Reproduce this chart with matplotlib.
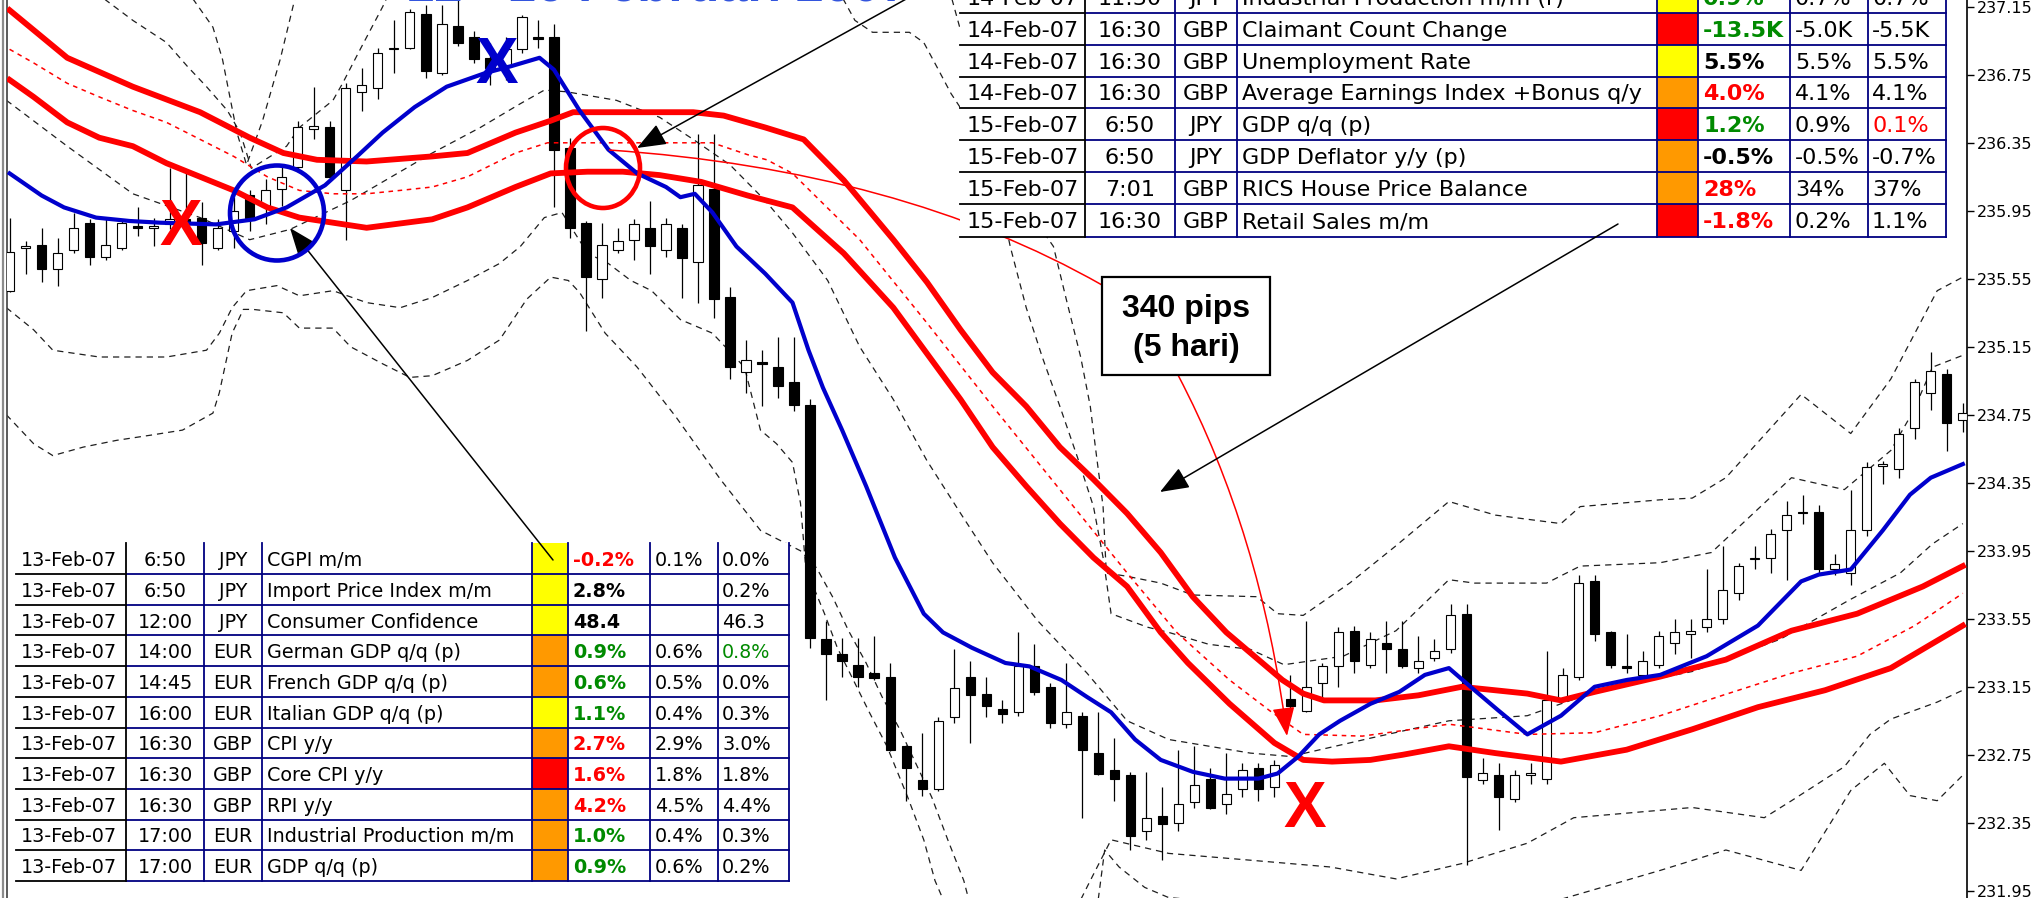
import numpy as np
import matplotlib
matplotlib.use("Agg")
import matplotlib.pyplot as plt
from matplotlib.patches import Rectangle, Ellipse, PathPatch, FancyArrowPatch
from matplotlib.path import Path

# ---- price bars (bar index 0..122) ----
opens = [
    235.48, 235.73, 235.75, 235.61, 235.72, 235.88, 235.68, 235.73, 235.86, 235.85,
    235.87, 235.90, 235.91, 235.73, 235.83, 236.04, 235.98, 236.08, 236.21, 236.43,
    236.44, 236.07, 236.65, 236.67, 236.90, 236.91, 237.11, 236.76, 237.04, 236.97,
    236.85, 236.81, 236.90, 236.97, 236.97, 236.32, 235.88, 235.55, 235.72, 235.78,
    235.85, 235.72, 235.85, 235.65, 236.08, 235.44, 235.00, 235.06, 235.03, 234.94,
    234.81, 233.43, 233.34, 233.28, 233.23, 233.21, 232.80, 232.60, 232.55, 232.97,
    233.21, 233.11, 233.02, 233.00, 233.27, 233.15, 232.93, 232.98, 232.76, 232.66,
    232.63, 232.30, 232.39, 232.35, 232.47, 232.61, 232.46, 232.55, 232.67, 232.56,
    233.08, 233.01, 233.17, 233.27, 233.48, 233.28, 233.41, 233.37, 233.26, 233.32,
    233.37, 233.58, 232.60, 232.63, 232.49, 232.63, 232.61, 233.08, 233.21, 233.77,
    233.47, 233.27, 233.22, 233.28, 233.41, 233.46, 233.50, 233.55, 233.70, 233.90,
    233.91, 234.07, 234.18, 234.18, 233.84, 233.82, 234.07, 234.45, 234.43, 234.67,
    234.88, 234.99, 234.72]
highs = [
    235.91, 235.77, 235.85, 235.79, 235.94, 235.90, 235.91, 235.90, 235.97, 235.91,
    236.20, 236.19, 236.00, 235.90, 236.03, 236.07, 236.14, 236.22, 236.48, 236.68,
    236.48, 236.70, 236.79, 236.91, 237.07, 237.14, 237.16, 237.16, 237.19, 237.01,
    236.94, 236.97, 237.10, 237.07, 237.05, 236.38, 235.89, 235.88, 235.85, 235.90,
    236.01, 235.91, 235.87, 236.40, 236.40, 235.50, 235.19, 235.13, 235.21, 235.21,
    234.84, 233.54, 233.44, 233.44, 233.45, 233.29, 232.81, 232.88, 232.97, 233.37,
    233.30, 233.21, 233.07, 233.47, 233.40, 233.17, 233.29, 233.00, 233.00, 232.85,
    232.65, 232.65, 232.56, 232.78, 232.80, 232.67, 232.76, 232.70, 232.70, 232.72,
    233.22, 233.54, 233.29, 233.50, 233.51, 233.47, 233.54, 233.54, 233.45, 233.43,
    233.64, 233.64, 232.73, 232.70, 232.66, 232.70, 233.36, 233.26, 233.81, 233.81,
    233.48, 233.46, 233.36, 233.48, 233.55, 233.55, 233.84, 233.98, 233.88, 233.98,
    234.08, 234.24, 234.28, 234.22, 233.93, 234.31, 234.47, 234.48, 234.67, 234.96,
    235.12, 235.02, 234.82]
lows = [
    235.47, 235.58, 235.53, 235.51, 235.70, 235.63, 235.66, 235.72, 235.80, 235.74,
    235.84, 235.83, 235.63, 235.72, 235.73, 235.83, 235.87, 235.98, 236.18, 236.37,
    236.13, 235.78, 236.54, 236.61, 236.76, 236.90, 236.73, 236.75, 236.92, 236.82,
    236.69, 236.72, 236.88, 236.91, 235.97, 235.79, 235.24, 235.44, 235.70, 235.66,
    235.58, 235.68, 235.44, 235.41, 235.32, 234.96, 234.88, 234.80, 234.85, 234.77,
    233.38, 233.07, 233.21, 233.15, 233.19, 232.77, 232.48, 232.51, 232.54, 232.94,
    232.82, 232.97, 232.94, 232.98, 233.10, 232.91, 232.91, 232.38, 232.63, 232.48,
    232.19, 232.25, 232.13, 232.30, 232.44, 232.43, 232.40, 232.50, 232.48, 232.50,
    232.98, 233.00, 233.09, 233.15, 233.23, 233.26, 233.23, 233.26, 233.23, 233.30,
    233.35, 232.10, 232.58, 232.31, 232.47, 232.58, 232.58, 233.06, 233.19, 233.42,
    233.26, 233.23, 233.19, 233.26, 233.34, 233.32, 233.47, 233.52, 233.66, 233.84,
    233.82, 233.78, 234.11, 233.82, 233.81, 233.75, 234.04, 234.34, 234.38, 234.61,
    234.78, 234.54, 234.65]
closes = [
    235.71, 235.74, 235.61, 235.70, 235.85, 235.68, 235.75, 235.88, 235.85, 235.86,
    235.90, 235.88, 235.76, 235.85, 235.95, 235.91, 236.07, 236.15, 236.44, 236.45,
    236.15, 236.67, 236.69, 236.88, 236.91, 237.12, 236.77, 237.05, 236.94, 236.84,
    236.79, 236.90, 237.09, 236.96, 236.31, 235.85, 235.56, 235.75, 235.77, 235.87,
    235.74, 235.87, 235.67, 236.10, 235.43, 235.03, 235.07, 235.05, 234.92, 234.81,
    233.44, 233.34, 233.30, 233.21, 233.20, 232.78, 232.67, 232.55, 232.95, 233.14,
    233.10, 233.04, 232.99, 233.27, 233.12, 232.94, 233.00, 232.78, 232.64, 232.61,
    232.27, 232.38, 232.34, 232.46, 232.57, 232.44, 232.52, 232.66, 232.55, 232.69,
    233.04, 233.15, 233.27, 233.47, 233.30, 233.43, 233.37, 233.27, 233.30, 233.36,
    233.57, 232.62, 232.64, 232.50, 232.63, 232.64, 233.07, 233.22, 233.76, 233.46,
    233.28, 233.26, 233.30, 233.45, 233.47, 233.48, 233.55, 233.72, 233.86, 233.91,
    234.05, 234.16, 234.17, 233.84, 233.87, 234.07, 234.44, 234.46, 234.64, 234.94,
    235.01, 234.70, 234.76]

# ---- indicator lines: (bar index, price) knots ----
ma_idx = [0, 2, 3.4, 5.4, 7.5, 9.4, 12.9, 15.3, 17.3, 19.7, 21.7, 23.3, 25.3, 27.3, 29.7,
          31.3, 33.1, 34, 35.6, 37.4, 39.2, 41, 41.9, 42.8, 43.9, 45.4, 47.2, 48.9, 49.9,
          50.8, 52, 53.5, 55.3, 57.1, 58.3, 60.1, 62.2, 63.7, 65.7, 67.3, 68.8, 70.3, 71.9,
          73.9, 75.9, 78, 79.2, 80.5, 81.8, 83.1, 85, 86.8, 88.4, 89.9, 91.5, 93, 94.8,
          96.9, 99, 101, 103.1, 106, 109.2, 111.9, 113, 115, 117, 118.7, 120, 122]
ma_val = [236.17, 236.04, 235.97, 235.91, 235.89, 235.88, 235.87, 235.90, 235.97, 236.10,
          236.27, 236.41, 236.56, 236.68, 236.76, 236.80, 236.85, 236.78, 236.54, 236.31,
          236.17, 236.09, 236.03, 236.05, 235.94, 235.74, 235.58, 235.41, 235.13, 234.91,
          234.66, 234.33, 233.91, 233.58, 233.47, 233.38, 233.29, 233.27, 233.19, 233.09,
          233.00, 232.84, 232.72, 232.65, 232.61, 232.61, 232.64, 232.74, 232.87, 232.95,
          233.05, 233.12, 233.22, 233.26, 233.13, 233.01, 232.87, 232.98, 233.15, 233.19,
          233.22, 233.33, 233.51, 233.77, 233.81, 233.84, 234.07, 234.28, 234.38, 234.46]

env_up_idx = [0, 3.6, 7.7, 11.9, 15, 17.1, 19.2, 22.3, 26.4, 28.6, 31.6, 33.8, 35.2, 38.3,
              42.7, 44.6, 47.2, 49.6, 52.1, 55.2, 57.3, 59.4, 61.4, 63.5, 65.6, 67.7, 69.8,
              71.9, 73.9, 76, 77.5, 79.5, 80.8, 82.1, 85.3, 88, 90.7, 94.8, 96.9, 99, 103.1,
              107.2, 111.3, 115.4, 119.5, 122]
env_up_val = [237.13, 236.85, 236.68, 236.53, 236.38, 236.29, 236.25, 236.24, 236.27, 236.29,
              236.41, 236.48, 236.53, 236.53, 236.53, 236.51, 236.44, 236.37, 236.13, 235.78,
              235.53, 235.25, 235.00, 234.80, 234.56, 234.37, 234.17, 233.94, 233.68, 233.47,
              233.35, 233.19, 233.11, 233.07, 233.07, 233.10, 233.15, 233.11, 233.07, 233.12,
              233.21, 233.31, 233.48, 233.58, 233.74, 233.86]

env_lo_idx = [0, 1.5, 3.6, 5.6, 7.7, 9.8, 11.9, 14, 16.1, 18.1, 20.2, 22.3, 26.4, 28.6, 31.6,
              33.8, 36.1, 38.3, 40.6, 43.2, 46.1, 48.9, 52.1, 55.2, 57.3, 59.4, 61.4, 63.5,
              65.6, 67.7, 69.8, 71.9, 73.6, 76.2, 79, 80.8, 82.6, 85, 87, 89.9, 92.8, 96.9,
              101, 105.1, 109.2, 113.4, 117.5, 122]
env_lo_val = [236.72, 236.62, 236.47, 236.38, 236.33, 236.23, 236.15, 236.07, 235.97, 235.91,
              235.88, 235.85, 235.90, 235.97, 236.09, 236.17, 236.18, 236.18, 236.16, 236.12,
              236.04, 235.97, 235.70, 235.38, 235.11, 234.84, 234.56, 234.33, 234.11, 233.91,
              233.74, 233.47, 233.29, 233.05, 232.82, 232.72, 232.71, 232.72, 232.75, 232.80,
              232.76, 232.71, 232.78, 232.90, 233.03, 233.13, 233.26, 233.51]

env_mid_idx = [0, 1.5, 3.6, 5.6, 7.7, 9.8, 11.9, 14, 16.1, 18.1, 20.2, 22.3, 24.4, 26.4, 28.6,
               31.6, 33.6, 36.1, 43.9, 46.1, 47.3, 48.9, 51.7, 53.1, 57.3, 61.4, 65.6, 69.8,
               72.9, 76.2, 78.7, 80.8, 84.5, 89.9, 94.8, 99, 103.1, 107, 111.3, 115.4, 119, 122]
env_mid_val = [236.90, 236.82, 236.70, 236.62, 236.54, 236.47, 236.37, 236.27, 236.15, 236.07,
               236.05, 236.05, 236.07, 236.09, 236.15, 236.29, 236.35, 236.35, 236.35, 236.28,
               236.25, 236.17, 235.91, 235.78, 235.29, 234.80, 234.31, 233.82, 233.47, 233.19,
               233.01, 232.87, 232.86, 232.93, 232.87, 232.88, 232.98, 233.10, 233.23, 233.33,
               233.51, 233.70]

# bollinger-style bands (black dashed)
bb_uo_idx = [-0.2, 6.9, 11.5, 12.7, 13.3, 13.8, 14.2, 14.8, 15.8, 16.9, 17.8, 18.8, 30.6, 43.1,
             49.4, 52.1, 52.8, 53.9, 56.2, 57.1, 57.9, 58.8, 59.5, 61.9, 65.2, 66.0, 66.9, 67.5,
             67.9, 68.3, 68.5, 69.8, 71.9, 73.9, 77.9, 79.2, 80.8, 83.7, 86.6, 89.9, 92.8, 96.9,
             98.1, 103.1, 105.1, 107.2, 111.9, 115.0, 117.5, 120.4, 122.0]
bb_uo_val = [238.66, 237.54, 237.19, 237.03, 236.84, 236.60, 236.41, 236.22, 236.48, 236.84,
             237.19, 237.54, 237.90, 237.78, 237.37, 237.19, 237.07, 237.00, 237.00, 236.94,
             236.80, 236.64, 236.54, 236.19, 235.74, 235.43, 235.09, 234.80, 234.50, 234.21,
             233.82, 233.80, 233.76, 233.69, 233.68, 233.58, 233.57, 233.76, 233.98, 234.24,
             234.16, 234.11, 234.21, 234.25, 234.26, 234.38, 234.87, 234.64, 234.96, 235.48,
             235.56]
bb_ui_idx = [-0.2, 6.0, 7.7, 9.8, 11.1, 12.3, 13.6, 14.4, 15.1, 17.3, 18.1, 20.2, 20.8, 21.9,
             23.3, 24.4, 43.1, 58.7, 60.6, 62.5, 63.5, 64.5, 65.6, 66.7, 67.7, 68.3, 68.8, 71.1,
             72.4, 74.9, 77.5, 79.6, 83.3, 86.6, 89.9, 91.5, 96.0, 98.1, 103.1, 106.3, 111.3,
             114.6, 117.5, 118.9, 120.1, 122.0]
bb_ui_val = [237.84, 237.19, 237.07, 236.94, 236.80, 236.68, 236.54, 236.41, 236.20, 236.33,
             236.44, 236.60, 236.70, 236.90, 237.15, 237.37, 237.66, 237.25, 236.60, 235.74,
             235.38, 235.09, 234.80, 234.50, 234.21, 233.91, 233.58, 233.50, 233.47, 233.40,
             233.37, 233.28, 233.33, 233.48, 233.78, 233.76, 233.76, 233.86, 233.88, 233.94,
             234.38, 234.31, 234.54, 234.77, 235.03, 235.10]
bb_mid_idx = [-0.2, 3.6, 7.7, 11.9, 15.0, 17.5, 21.3, 26.4, 29.4, 31.9, 33.4, 34.8, 37.9, 40.6,
              42.7, 45.0, 47.2, 48.9, 51.1, 53.1, 55.2, 57.3, 59.4, 61.4, 64.2, 67.3, 69.8, 72.4,
              77.5, 80.0, 85.1, 89.9, 94.8, 99.3, 105.1, 110.6, 114.9, 118.1, 120.1, 122.0]
bb_mid_val = [236.60, 236.33, 236.05, 235.91, 235.78, 235.84, 236.01, 236.29, 236.44, 236.58,
              236.66, 236.65, 236.60, 236.50, 236.37, 236.22, 236.01, 235.82, 235.54, 235.15,
              234.84, 234.48, 234.17, 233.88, 233.54, 233.23, 232.95, 232.84, 232.76, 232.74,
              232.85, 232.95, 232.98, 233.13, 233.24, 233.43, 233.66, 233.82, 233.99, 234.11]
bb_li_idx = [-0.2, 1.5, 2.7, 5.6, 9.8, 12.3, 13.1, 13.9, 14.8, 16.7, 18.1, 20.2, 22.3, 24.4,
             26.4, 28.6, 30.6, 31.9, 33.4, 34.5, 36.1, 37.4, 38.8, 40.1, 41.9, 43.9, 45.9, 46.9,
             47.9, 48.9, 49.4, 49.7, 50.2, 50.9, 51.7, 52.7, 53.7, 54.8, 56.1, 57.1, 57.8, 59.4,
             65.0, 67.5, 68.8, 72.4, 77.5, 82.5, 86.6, 90.7, 94.8, 97.7, 105.1, 109.6, 111.3,
             114.6, 116.2, 117.5, 120.4, 122.0]
bb_li_val = [235.38, 235.25, 235.13, 235.09, 235.09, 235.13, 235.23, 235.38, 235.48, 235.51,
             235.45, 235.48, 235.41, 235.38, 235.44, 235.54, 235.64, 235.74, 235.91, 235.94,
             235.70, 235.64, 235.54, 235.48, 235.31, 235.23, 235.03, 234.66, 234.58, 234.47,
             234.23, 233.88, 233.74, 233.58, 233.38, 233.19, 233.00, 232.80, 232.50, 232.25,
             232.01, 231.66, 231.54, 232.01, 232.25, 232.17, 232.13, 232.09, 232.02, 232.11,
             232.23, 232.38, 232.44, 232.38, 232.48, 232.68, 232.87, 232.96, 233.06, 233.13]
bb_lo_idx = [-0.2, 1.5, 2.7, 4.6, 6.7, 8.8, 10.8, 12.7, 13.1, 13.9, 14.6, 15.2, 17.1, 18.1,
             20.2, 21.3, 23.3, 25.0, 26.4, 28.6, 30.6, 32.3, 33.8, 34.9, 35.6, 37.2, 39.2, 41.6,
             44.4, 46.9, 49.4, 50.4, 51.4, 52.4, 53.5, 54.5, 55.6, 56.6, 57.6, 58.6, 59.6, 60.9,
             67.5, 68.4, 69.3, 70.9, 72.4, 77.5, 80.8, 89.9, 96.9, 103.1, 107.2, 111.9, 115.0,
             117.1, 118.7, 120.4, 122.0]
bb_lo_val = [234.75, 234.58, 234.51, 234.56, 234.60, 234.63, 234.66, 234.76, 234.88, 235.23,
             235.37, 235.37, 235.35, 235.26, 235.26, 235.15, 235.05, 234.97, 234.98, 235.07,
             235.19, 235.43, 235.56, 235.54, 235.47, 235.23, 235.03, 234.74, 234.37, 234.07,
             233.95, 233.85, 233.68, 233.48, 233.29, 233.09, 232.90, 232.70, 232.50, 232.25,
             232.01, 231.54, 231.54, 232.19, 232.09, 231.97, 231.91, 231.87, 231.90, 231.66,
             231.90, 232.07, 232.19, 232.07, 232.54, 232.70, 232.51, 232.48, 232.63]

price_ticks = [231.95, 232.35, 232.75, 233.15, 233.55, 233.95, 234.35, 234.75,
               235.15, 235.55, 235.95, 236.35, 236.75, 237.15]

# ---- economic calendar tables ----
low_date = ['13-Feb-07'] * 11
low_time = ['6:50', '6:50', '12:00', '14:00', '14:45', '16:00', '16:30', '16:30', '16:30', '17:00', '17:00']
low_ccy = ['JPY', 'JPY', 'JPY', 'EUR', 'EUR', 'EUR', 'GBP', 'GBP', 'GBP', 'EUR', 'EUR']
low_event = ['CGPI m/m', 'Import Price Index m/m', 'Consumer Confidence', 'German GDP q/q (p)',
             'French GDP q/q (p)', 'Italian GDP q/q (p)', 'CPI y/y', 'Core CPI y/y', 'RPI y/y',
             'Industrial Production m/m', 'GDP q/q (p)']
low_impact = ['y', 'y', 'y', 'o', 'o', 'y', 'o', 'r', 'o', 'o', 'o']
low_actual = ['-0.2%', '2.8%', '48.4', '0.9%', '0.6%', '1.1%', '2.7%', '1.6%', '4.2%', '1.0%', '0.9%']
low_actual_col = ['r', 'k', 'k', 'g', 'g', 'g', 'r', 'r', 'r', 'g', 'g']
low_fcst = ['0.1%', '', '', '0.6%', '0.5%', '0.4%', '2.9%', '1.8%', '4.5%', '0.4%', '0.6%']
low_prev = ['0.0%', '0.2%', '46.3', '0.8%', '0.0%', '0.3%', '3.0%', '1.8%', '4.4%', '0.3%', '0.2%']
low_prev_col = ['k', 'k', 'k', 'g', 'k', 'k', 'k', 'k', 'k', 'k', 'k']

top_date = ['14-Feb-07'] * 4 + ['15-Feb-07'] * 4
top_time = ['11:30', '16:30', '16:30', '16:30', '6:50', '6:50', '7:01', '16:30']
top_ccy = ['JPY', 'GBP', 'GBP', 'GBP', 'JPY', 'JPY', 'GBP', 'GBP']
top_event = ['Industrial Production m/m (r)', 'Claimant Count Change', 'Unemployment Rate',
             'Average Earnings Index +Bonus q/y', 'GDP q/q (p)', 'GDP Deflator y/y (p)',
             'RICS House Price Balance', 'Retail Sales m/m']
top_impact = ['y', 'r', 'y', 'o', 'r', 'o', 'o', 'r']
top_actual = ['0.9%', '-13.5K', '5.5%', '4.0%', '1.2%', '-0.5%', '28%', '-1.8%']
top_actual_col = ['g', 'g', 'k', 'r', 'g', 'k', 'r', 'r']
top_fcst = ['0.7%', '-5.0K', '5.5%', '4.1%', '0.9%', '-0.5%', '34%', '0.2%']
top_prev = ['0.7%', '-5.5K', '5.5%', '4.1%', '0.1%', '-0.7%', '37%', '1.1%']
top_prev_col = ['k', 'k', 'k', 'k', 'r', 'k', 'k', 'k']

IMPACT = {'y': '#ffff00', 'o': '#ff9900', 'r': '#ff0000'}
TXT = {'g': '#008a00', 'r': '#ff0000', 'k': 'black'}
BLUE = '#0000cc'

# ---- figure / layout ----
W, H = 2034, 898
BAR0, PITCH = 9.6, 16.01          # pixel x of first bar, bar spacing
PRICE_TOP, PX_PER_UNIT = 237.19, 170.0

plt.rcParams['font.family'] = ['DejaVu Sans']
fig = plt.figure(figsize=(W / 100, H / 100), dpi=100)
ax = fig.add_axes([7 / W, 0, 1960 / W, 1])
ax.set_xlim((7 - BAR0) / PITCH, (1967 - BAR0) / PITCH)
ax.set_ylim(PRICE_TOP - H / PX_PER_UNIT, PRICE_TOP)

# bands under everything
dash = (0, (5, 4))
for xs, ys in [(bb_uo_idx, bb_uo_val), (bb_ui_idx, bb_ui_val), (bb_mid_idx, bb_mid_val),
               (bb_li_idx, bb_li_val), (bb_lo_idx, bb_lo_val)]:
    ax.plot(xs, ys, color='#1e1e1e', lw=0.9, ls=dash, zorder=1)

# candles
o = np.array(opens); h = np.array(highs); l = np.array(lows); c = np.array(closes)
idx = np.arange(len(o))
up = c >= o
ax.vlines(idx, l, h, color='black', lw=0.9, zorder=2)
bottom = np.minimum(o, c)
height = np.maximum(np.abs(c - o), 0.008)
ax.bar(idx[up], height[up], bottom=bottom[up], width=0.58, color='white',
       edgecolor='black', lw=0.8, zorder=3)
ax.bar(idx[~up], height[~up], bottom=bottom[~up], width=0.58, color='black',
       edgecolor='black', lw=0.8, zorder=3)

# envelope + MA
ax.plot(env_mid_idx, env_mid_val, color='red', lw=1.1, ls=(0, (3, 3)), zorder=4)
ax.plot(env_up_idx, env_up_val, color='red', lw=4.2, zorder=4)
ax.plot(env_lo_idx, env_lo_val, color='red', lw=4.2, zorder=4)
ax.plot(ma_idx, ma_val, color=BLUE, lw=3.0, zorder=5)

ax.yaxis.tick_right()
ax.set_yticks(price_ticks)
ax.set_yticklabels([f'{v:.2f}' for v in price_ticks])
ax.tick_params(axis='y', direction='out', length=5, width=1, labelsize=11.5, pad=2)
ax.set_xticks([])
ax.spines['top'].set_visible(False)
ax.spines['bottom'].set_visible(False)
ax.spines['right'].set_linewidth(1.2)
ax.spines['left'].set_color('#404040')
ax.spines['left'].set_linewidth(1.2)

# ---- annotation layer in pixel coordinates ----
ov = fig.add_axes([0, 0, 1, 1])
ov.set_xlim(0, W)
ov.set_ylim(H, 0)
ov.axis('off')
ov.patch.set_visible(False)
ov.plot([2.5, 2.5], [0, H], color='#8c8c8c', lw=1.6)


def draw_table(edges, row_y, cols, fs, pad):
    date, time, ccy, event, impact, actual, actual_col, fcst, prev, prev_col = cols
    top, bot = row_y[0], row_y[-1]
    ov.add_patch(Rectangle((edges[0], top), edges[-1] - edges[0], bot - top,
                           fc='white', ec='none', zorder=2))
    for r in range(len(date)):
        y0, y1 = row_y[r], row_y[r + 1]
        ym = (y0 + y1) / 2
        ov.add_patch(Rectangle((edges[4], y0), edges[5] - edges[4], y1 - y0,
                               fc=IMPACT[impact[r]], ec='none', zorder=3))
        kw = dict(fontsize=fs, va='center_baseline', zorder=5)
        ov.text(edges[0] + pad, ym, date[r], ha='left', **kw)
        ov.text((edges[1] + edges[2]) / 2, ym, time[r], ha='center', **kw)
        ov.text((edges[2] + edges[3]) / 2, ym, ccy[r], ha='center', **kw)
        ov.text(edges[3] + 5, ym, event[r], ha='left', **kw)
        ov.text(edges[5] + 5, ym, actual[r], ha='left', color=TXT[actual_col[r]],
                fontweight='bold', **kw)
        ov.text(edges[6] + 5, ym, fcst[r], ha='left', **kw)
        ov.text(edges[7] + 4, ym, prev[r], ha='left', color=TXT[prev_col[r]], **kw)
        ov.plot([edges[0], edges[1]], [y1, y1], color='black', lw=1.3, zorder=4)
        ov.plot([edges[1], edges[-1]], [y1, y1], color='#000080', lw=1.3, zorder=4)
    for k, e in enumerate(edges[1:], start=1):
        ov.plot([e, e], [top, bot], color='black' if k == 1 else '#000080', lw=1.3, zorder=4)


low_edges = [16, 126, 204, 262, 532, 568, 650, 718, 789]
low_rows_y = [543.3 + 30.7 * k for k in range(len(low_date) + 1)]
draw_table(low_edges, low_rows_y,
           (low_date, low_time, low_ccy, low_event, low_impact, low_actual, low_actual_col,
            low_fcst, low_prev, low_prev_col), 13.8, 5)

top_edges = [960, 1085, 1175, 1237, 1657, 1698, 1790, 1868, 1946]
top_rows_y = [-19, 13, 45, 77, 108, 140, 172, 204, 237]
draw_table(top_edges, top_rows_y,
           (top_date, top_time, top_ccy, top_event, top_impact, top_actual, top_actual_col,
            top_fcst, top_prev, top_prev_col), 16, 7)

# thin red link from the red circle to the pips box (passes behind the table)
ov.add_patch(PathPatch(Path([(609, 150), (900, 170), (1102, 285)],
                            [Path.MOVETO, Path.CURVE3, Path.CURVE3]),
                       fill=False, ec='red', lw=1.1, zorder=1))
ov.add_patch(FancyArrowPatch(path=Path([(1178, 375), (1261, 533), (1287, 736)],
                                       [Path.MOVETO, Path.CURVE3, Path.CURVE3]),
                             arrowstyle='-|>,head_length=0.9,head_width=0.35',
                             mutation_scale=20, color='red', lw=1.1, zorder=6))

# black arrows
head = dict(arrowstyle='-|>,head_length=0.9,head_width=0.35', color='black', lw=1.1,
            mutation_scale=20, shrinkA=0, shrinkB=0)
ov.annotate('', xy=(290, 228), xytext=(553, 560), arrowprops=head, zorder=6)
ov.annotate('', xy=(637, 148), xytext=(908, -2), arrowprops=head, zorder=6)
ov.annotate('', xy=(1160, 492), xytext=(1618, 224), arrowprops=head, zorder=6)

# circles and crosses
ov.add_patch(Ellipse((277, 213), 94, 95, fill=False, ec=BLUE, lw=3.3, zorder=6))
ov.add_patch(Ellipse((603, 168), 74, 80, fill=False, ec='red', lw=3.3, zorder=6))
xkw = dict(fontsize=46, fontweight='bold', ha='center', va='center',
           family='Liberation Sans', zorder=7)
ov.text(181, 228, 'X', color='red', **xkw)
ov.text(497, 66, 'X', color=BLUE, **xkw)
ov.text(1305, 810, 'X', color='red', **xkw)

# pips box
ov.add_patch(Rectangle((1102, 277), 168, 98, fc='white', ec='black', lw=1.6, zorder=6))
bkw = dict(fontsize=23, fontweight='bold', ha='center', va='center',
           family='Liberation Sans', zorder=7)
ov.text(1186, 309, '340 pips', **bkw)
ov.text(1186, 348, '(5 hari)', **bkw)

# title, almost entirely above the top edge of the screenshot
ov.text(908, 0.5, '12 - 16 Februari 2007', color='#3355dd', fontsize=36.5, fontweight='bold',
        ha='right', va='baseline', family='Liberation Sans', zorder=7)

fig.savefig('out.png', dpi=100)
